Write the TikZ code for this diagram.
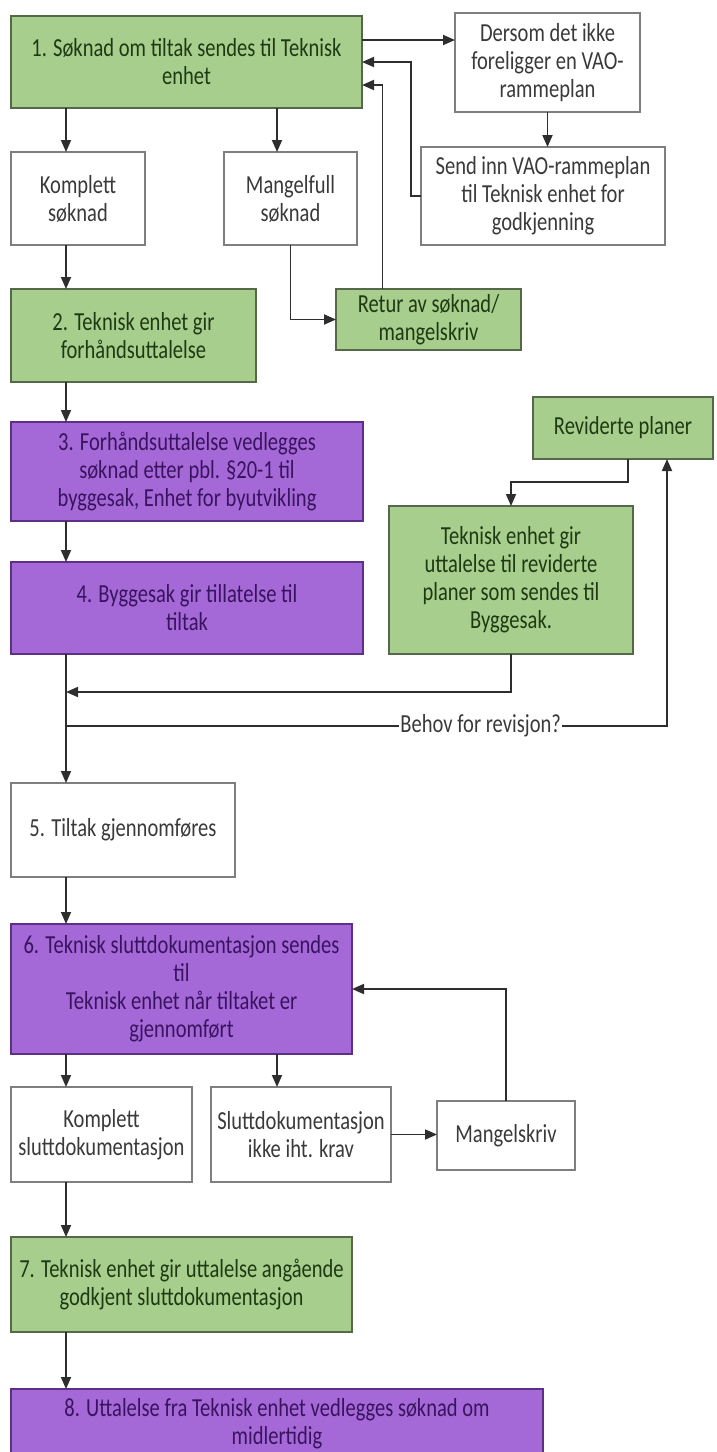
\documentclass[tikz,border=0pt]{standalone}
\usepackage{fontspec}
\setmainfont[FakeStretch=0.79]{Carlito}
\usepackage{tikz}
\usetikzlibrary{positioning}
\usetikzlibrary{arrows.meta}

\definecolor{boxgreen}{HTML}{A8CE8E}
\definecolor{boxpurple}{HTML}{A569D7}
\definecolor{greenedge}{HTML}{56684A}
\definecolor{purpleedge}{HTML}{5E2F86}
\definecolor{greyedge}{HTML}{7F7F7F}
\definecolor{greentext}{HTML}{1E3A12}
\definecolor{purpletext}{HTML}{3A1360}
\definecolor{greytext}{HTML}{3A3A3A}
\definecolor{linegrey}{HTML}{2E2E2E}

\tikzset{
  boxbase/.style={draw, rectangle, inner sep=0pt, outer sep=0pt, align=center, anchor=north west,
                  line width=1.4pt, font=\fontsize{26}{28}\selectfont},
  greenbox/.style={boxbase, fill=boxgreen, draw=greenedge, text=greentext},
  purplebox/.style={boxbase, fill=boxpurple, draw=purpleedge, text=purpletext},
  whitebox/.style={boxbase, fill=white, draw=greyedge, text=greytext},
  arr/.style={-{Triangle[length=12pt,width=10pt]}, line width=1.8pt, draw=linegrey}
}

\begin{document}
\begin{tikzpicture}[x=1pt, y=-1pt]
				\useasboundingbox (0,0) rectangle (717,1452);
				\coordinate (lane) at (66,0);
				\coordinate (lane2) at (277,0);
				
				% step 1
				\node [greenbox, minimum width=351pt, minimum height=92pt] (s1) at (11,16)
					{1. Søknad om tiltak sendes til Teknisk\\enhet};
				
				% no VAO plan
				\node [whitebox, minimum width=185pt, minimum height=99pt] (dersom) at (455,13)
					{Dersom det ikke\\foreligger en VAO-\\rammeplan};
				\node [whitebox, minimum width=244pt, minimum height=98pt] (sendinn) at (421,147)
					{Send inn VAO-rammeplan\\til Teknisk enhet for\\godkjenning};
				
				% complete / incomplete
				\node [whitebox, minimum width=134pt, minimum height=93pt, below=44pt of s1.south west, anchor=north west] (komplett)
					{Komplett\\søknad};
				\node [whitebox, minimum width=133pt, minimum height=93pt, right=79pt of komplett.north east, anchor=north west] (mangel)
					{Mangelfull\\søknad};
				\node [greenbox, minimum width=185pt, minimum height=61pt] (retur) at (336,289)
					{Retur av søknad/\\mangelskriv};
				
				% step 2
				\node [greenbox, minimum width=245pt, minimum height=93pt, below=44pt of komplett.south west, anchor=north west] (s2)
					{2. Teknisk enhet gir\\forhåndsuttalelse};
				
				% step 3
				\node [purplebox, minimum width=352pt, minimum height=99pt, below=40pt of s2.south west, anchor=north west] (s3)
					{3. Forhåndsuttalelse vedlegges\\søknad etter pbl. §20-1 til\\byggesak, Enhet for byutvikling};
				
				% step 4
				\node [purplebox, minimum width=352pt, minimum height=92pt, below=41pt of s3.south west, anchor=north west] (s4)
					{4. Byggesak gir tillatelse til\\tiltak};
				
				% revision loop
				\node [greenbox, minimum width=180pt, minimum height=62pt] (rev) at (533,397)
					{Reviderte planer};
				\node [greenbox, minimum width=244pt, minimum height=148pt] (tekrev) at (389,506)
					{Teknisk enhet gir\\uttalelse til reviderte\\planer som sendes til\\Byggesak.};
				
				% step 5
				\node [whitebox, minimum width=224pt, minimum height=94pt, below=129pt of s4.south west, anchor=north west] (s5)
					{5. Tiltak gjennomføres};
				
				% step 6
				\node [purplebox, minimum width=341pt, minimum height=130pt, below=47pt of s5.south west, anchor=north west] (s6)
					{6. Teknisk sluttdokumentasjon sendes\\til\\Teknisk enhet når tiltaket er\\gjennomført};
				
				\node [whitebox, minimum width=181pt, minimum height=95pt, below=33pt of s6.south west, anchor=north west] (kompslutt)
					{Komplett\\sluttdokumentasjon};
				\node [whitebox, minimum width=180pt, minimum height=95pt, right=19pt of kompslutt.north east, anchor=north west] (slutt)
					{Sluttdokumentasjon\\ikke iht. krav};
				\node [whitebox, minimum width=138pt, minimum height=69pt] (mangelskriv) at (437,1101)
					{Mangelskriv};
				
				% step 7
				\node [greenbox, minimum width=341pt, minimum height=95pt, below=55pt of kompslutt.south west, anchor=north west] (s7)
					{7. Teknisk enhet gir uttalelse angående\\godkjent sluttdokumentasjon};
				
				% step 8
				\node [purplebox, minimum width=532pt, minimum height=70pt, below=57pt of s7.south west, anchor=north west] (s8)
					{8. Uttalelse fra Teknisk enhet vedlegges søknad om\\midlertidig};
				
				% connectors, top part
				\draw [arr] ([yshift=22pt]s1.east) -- ([yshift=22pt]s1.east -| dersom.west);
				\draw [arr] (dersom.south) -- (dersom.south |- sendinn.north);
				\draw [arr] (sendinn.west) -- ++(-10,0) |- (s1.east);
				\draw [arr] (s1.south -| lane) -- (komplett.north -| lane);
				\draw [arr] (s1.south -| lane2) -- (mangel.north -| lane2);
				\draw [arr] (mangel.south) |- (retur.west);
				\draw [arr] ([xshift=-46pt]retur.north) |- ([yshift=-23pt]s1.east);
				\draw [arr] (komplett.south -| lane) -- (s2.north -| lane);
				\draw [arr] (s2.south -| lane) -- (s3.north -| lane);
				\draw [arr] (s3.south -| lane) -- (s4.north -| lane);
				
				% revision loop
				\coordinate (join) at (66,692);
				\coordinate (split) at (66,726);
				\draw [arr] ([xshift=5pt]rev.south) -- ++(0,23) -| (tekrev.north);
				\draw [arr] (tekrev.south) |- (join);
				\draw [arr] (s4.south -| lane) -- (s5.north -| lane);
				\draw [arr] (split) -| ([xshift=44pt]rev.south)
					node [pos=0.345, fill=white, inner sep=1pt, text=greytext, font=\fontsize{26}{28}\selectfont] (behov) {Behov for revisjon?};
				
				% lower part
				\draw [arr] (s5.south -| lane) -- (s6.north -| lane);
				\draw [arr] (s6.south -| lane) -- (kompslutt.north -| lane);
				\draw [arr] (s6.south -| lane2) -- (slutt.north -| lane2);
				\draw [arr] (slutt.east) -- (slutt.east -| mangelskriv.west);
				\draw [arr] (mangelskriv.north) |- (s6.east);
				\draw [arr] (kompslutt.south -| lane) -- (s7.north -| lane);
				\draw [arr] (s7.south -| lane) -- (s8.north -| lane);
			\end{tikzpicture}
\end{document}
